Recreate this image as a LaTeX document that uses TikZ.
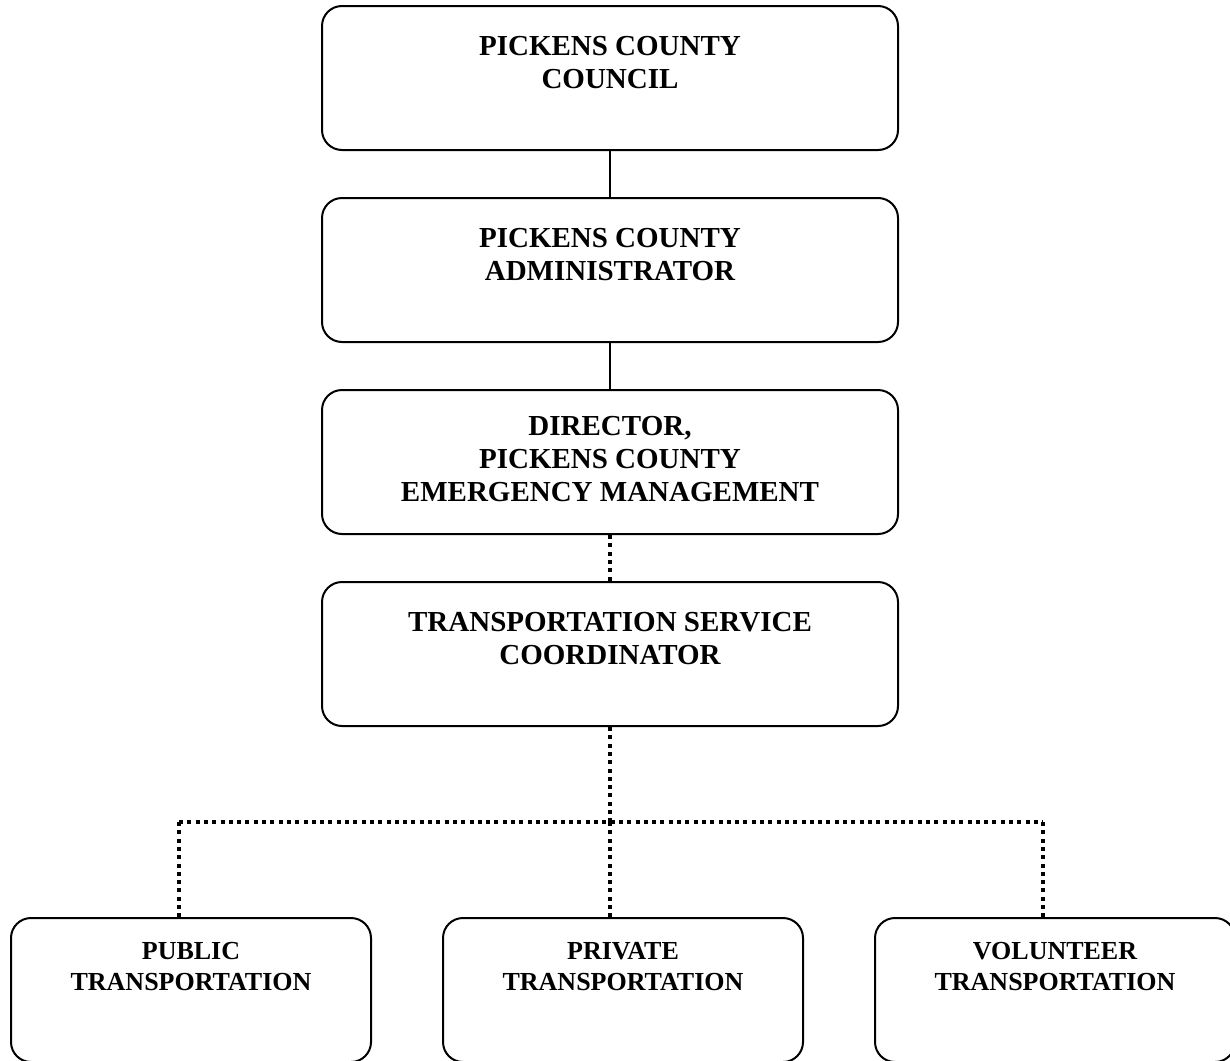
\documentclass[tikz,border=0pt]{standalone}
\usepackage{fontspec}
\setmainfont{Liberation Serif}
\usetikzlibrary{positioning}
\begin{document}
\begin{tikzpicture}[x=1pt,y=-1pt,
  unit/.style={draw, line width=2pt, rounded corners=20pt, minimum width=576pt, minimum height=144pt, inner sep=0pt},
  leaf/.style={draw, line width=2pt, rounded corners=20pt, minimum width=360pt, minimum height=144pt, inner sep=0pt},
  title/.style={inner sep=0pt, align=center, font=\fontsize{29}{33}\selectfont\bfseries},
  subtitle/.style={inner sep=0pt, align=center, font=\fontsize{26}{31}\selectfont\bfseries},
  link/.style={line width=1.6pt},
  dotlink/.style={line width=4pt, dash pattern=on 4pt off 4.3pt}]
\useasboundingbox (0,0) rectangle (1230,1060);
\node[unit] (box0) at (610,78){};
\node[title, below=31pt of box0.north] (txt0){PICKENS COUNTY\\COUNCIL};
\node[unit] (box1) at (610,270){};
\node[title, below=31pt of box1.north] (txt1){PICKENS COUNTY\\ADMINISTRATOR};
\node[unit] (box2) at (610,462){};
\node[title, below=27.5pt of box2.north] (txt2){DIRECTOR,\\PICKENS COUNTY\\EMERGENCY MANAGEMENT};
\node[unit] (box3) at (610,654){};
\node[title, below=31pt of box3.north] (txt3){TRANSPORTATION SERVICE\\COORDINATOR};
\draw[link](box0) -- (box1);
\draw[link](box1) -- (box2);
\draw[dotlink](box2) -- (box3);
\node[leaf] (leaf0) at (191,990){};
\node[subtitle, below=25pt of leaf0.north] (ltxt0){PUBLIC\\TRANSPORTATION};
\node[leaf] (leaf1) at (623,990){};
\node[subtitle, below=25pt of leaf1.north] (ltxt1){PRIVATE\\TRANSPORTATION};
\node[leaf] (leaf2) at (1055,990){};
\node[subtitle, below=25pt of leaf2.north] (ltxt2){VOLUNTEER\\TRANSPORTATION};
\coordinate (bus0) at (179,822);
\coordinate (bus1) at (610,822);
\coordinate (bus2) at (1043,822);
\draw[dotlink](box3) -- (bus1);
\draw[dotlink](bus0) -- (bus2);
\draw[dotlink](bus0) -- (bus0 |- leaf0.north);
\draw[dotlink](bus1) -- (bus1 |- leaf1.north);
\draw[dotlink](bus2) -- (bus2 |- leaf2.north);
\end{tikzpicture}
\end{document}
